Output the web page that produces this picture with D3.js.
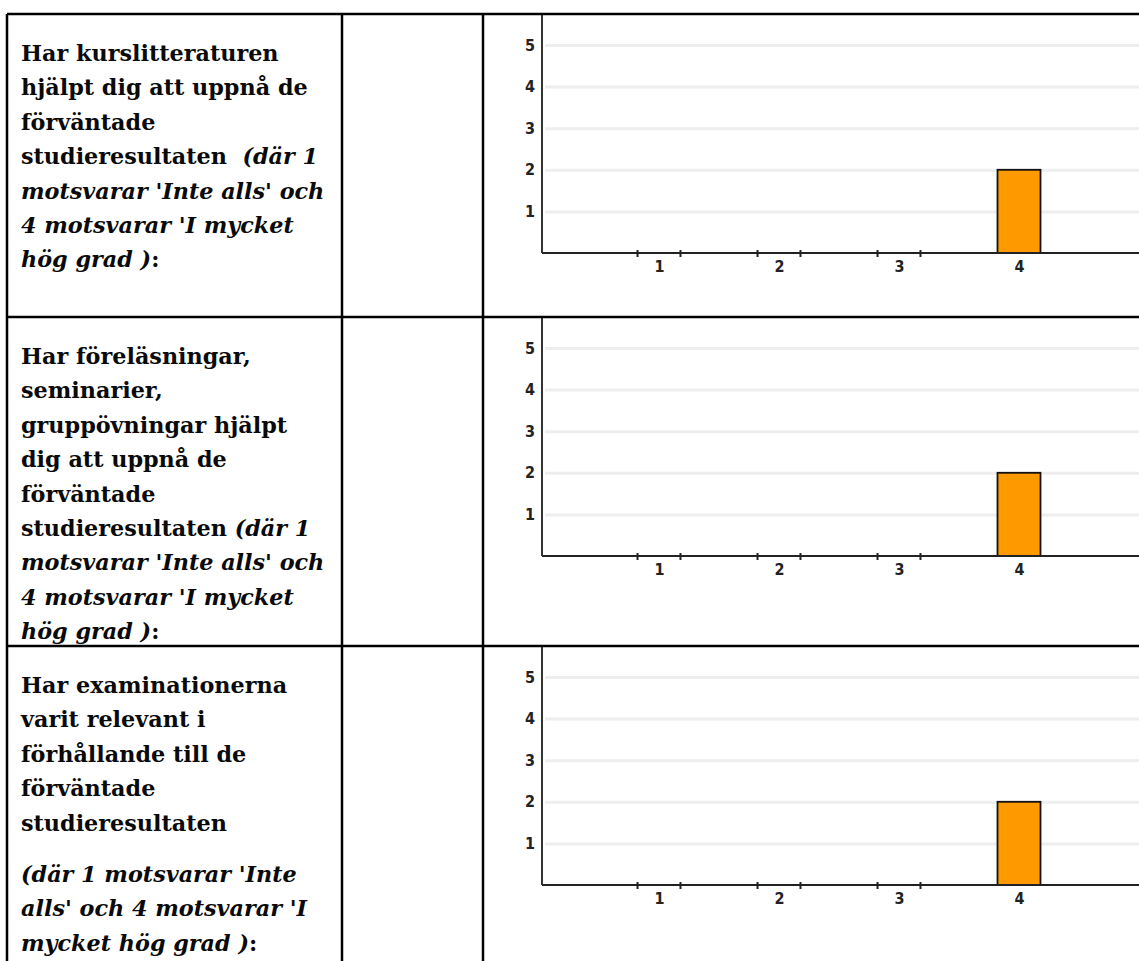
<!DOCTYPE html>
<html>
<head>
<meta charset="utf-8">
<script src="https://cdn.jsdelivr.net/npm/d3@7"></script>
<style>
  body { margin: 0; background: #fff; }
  svg { display: block; }
  .question text { font-family: "DejaVu Serif", serif; font-weight: bold; font-size: 22.3px; fill: #0a0a0a; white-space: pre; }
  .axis text { font-family: "Liberation Sans Narrow", "DejaVu Sans Condensed", sans-serif; font-weight: bold; font-size: 16px; fill: #222; }
</style>
</head>
<body>
<script>
// answer scale (1 = 'Inte alls', 4 = 'I mycket hög grad') and number of answers
const categories = ["1", "2", "3", "4"];
const counts1 = [0, 0, 0, 2];
const counts2 = [0, 0, 0, 2];
const counts3 = [0, 0, 0, 2];
const yTicks = [1, 2, 3, 4, 5];

// question texts, one array per paragraph, each line is a list of [text, italic]
const question1 = [[
  [["Har kurslitteraturen"]],
  [["hjälpt dig att uppnå de"]],
  [["förväntade"]],
  [["studieresultaten  "], ["(där 1", true]],
  [["motsvarar 'Inte alls' och", true]],
  [["4 motsvarar 'I mycket", true]],
  [["hög grad )", true], [":"]]
]];
const question2 = [[
  [["Har föreläsningar,"]],
  [["seminarier,"]],
  [["gruppövningar hjälpt"]],
  [["dig att uppnå de"]],
  [["förväntade"]],
  [["studieresultaten "], ["(där 1", true]],
  [["motsvarar 'Inte alls' och", true]],
  [["4 motsvarar 'I mycket", true]],
  [["hög grad )", true], [":"]]
]];
const question3 = [
  [
    [["Har examinationerna"]],
    [["varit relevant i"]],
    [["förhållande till de"]],
    [["förväntade"]],
    [["studieresultaten"]]
  ],
  [
    [["(där 1 motsvarar 'Inte", true]],
    [["alls' och 4 motsvarar 'I", true]],
    [["mycket hög grad )", true], [":"]]
  ]
];

const rows = [
  { text: question1, counts: counts1 },
  { text: question2, counts: counts2 },
  { text: question3, counts: counts3 }
];

// page layout
const W = 1139, H = 961;
const rowTops = [14, 317, 646];
const colLines = [7, 342, 483];
const lineHeight = 34.4, paraGap = 17, textX = 21, firstBase = 47;
const axisX = 542, chartH = 239, barHalf = 21.5;

const svg = d3.select("body").append("svg")
  .attr("width", W)
  .attr("height", H);

// scales shared by the three charts
const x = d3.scaleLinear().domain([0, 5]).range([539, 1139]);
const y = d3.scaleLinear().domain([0, 5.745]).range([chartH, 0]);

rows.forEach((row, i) => {
  const top = rowTops[i];

  // question text
  const tg = svg.append("g").attr("class", "question");
  let base = top + firstBase;
  row.text.forEach((para, p) => {
    if (p > 0) base += paraGap;
    para.forEach(line => {
      const t = tg.append("text").attr("x", textX).attr("y", base);
      line.forEach(seg => {
        t.append("tspan")
          .style("font-style", seg[1] ? "italic" : "normal")
          .text(seg[0]);
      });
      base += lineHeight;
    });
  });

  // chart
  const g = svg.append("g").attr("transform", `translate(0,${top})`);

  // y axis with light gridlines
  const yAxis = g.append("g")
    .attr("class", "axis")
    .attr("transform", `translate(${axisX},0)`)
    .call(d3.axisLeft(y).tickValues(yTicks).tickSize(-(W - axisX)).tickPadding(7).tickFormat(d3.format("d")));
  yAxis.select(".domain").remove();
  yAxis.selectAll(".tick line")
    .attr("x1", 3)
    .attr("stroke", "#eeeeee")
    .attr("stroke-width", 3);

  // bars
  const data = categories.map((c, k) => ({ cat: c, pos: k + 1, value: row.counts[k] }));
  g.selectAll("rect.bar")
    .data(data.filter(d => d.value > 0))
    .enter().append("rect")
    .attr("class", "bar")
    .attr("x", d => x(d.pos) - barHalf)
    .attr("width", barHalf * 2)
    .attr("y", d => y(d.value))
    .attr("height", d => y(0) - y(d.value))
    .attr("fill", "#ff9900")
    .attr("stroke", "#111")
    .attr("stroke-width", 1.8);

  // x axis: labels, base line and tick marks at the bar edges
  const xAxis = g.append("g")
    .attr("class", "axis")
    .attr("transform", `translate(0,${y(0)})`)
    .call(d3.axisBottom(x).tickValues(data.map(d => d.pos)).tickSize(0).tickPadding(8)
      .tickFormat(d => categories[d - 1]));
  xAxis.select(".domain").remove();

  g.append("line")
    .attr("x1", axisX).attr("x2", W)
    .attr("y1", y(0)).attr("y2", y(0))
    .attr("stroke", "#222").attr("stroke-width", 2);

  g.selectAll("line.edge")
    .data(data.filter(d => d.value === 0).flatMap(d => [d.pos - 0.179, d.pos + 0.179]))
    .enter().append("line")
    .attr("class", "edge")
    .attr("x1", d => x(d)).attr("x2", d => x(d))
    .attr("y1", y(0) - 3).attr("y2", y(0) + 4)
    .attr("stroke", "#222").attr("stroke-width", 2);

  g.append("line")
    .attr("x1", axisX).attr("x2", axisX)
    .attr("y1", 0).attr("y2", y(0))
    .attr("stroke", "#333").attr("stroke-width", 2);
});

// table borders
const border = svg.append("g").attr("stroke", "#000").attr("stroke-width", 2.5);
rowTops.forEach(t => {
  border.append("line").attr("x1", colLines[0]).attr("x2", W).attr("y1", t).attr("y2", t);
});
colLines.forEach(c => {
  border.append("line").attr("x1", c).attr("x2", c).attr("y1", rowTops[0]).attr("y2", H);
});
</script>
</body>
</html>
